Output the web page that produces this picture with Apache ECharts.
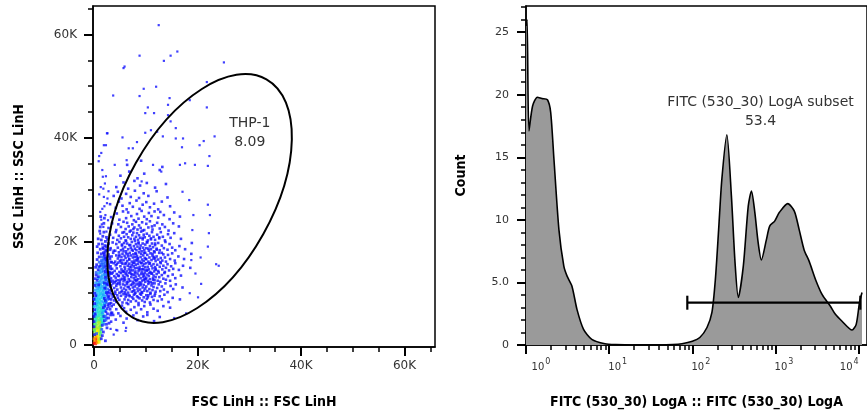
<!DOCTYPE html>
<html><head><meta charset="utf-8">
<script src="https://cdn.jsdelivr.net/npm/echarts@6/dist/echarts.min.js"></script>
<style>html,body{margin:0;padding:0;background:#fff}#c{width:867px;height:414px}</style>
</head><body><div id="c"></div>
<script>
// ---------- DATA (scatter values in hundreds of channel units) ----------
const fscTickValues = [0, 20000, 40000, 60000];
const fscTickLabels = ['0', '20K', '40K', '60K'];
const fscMinorTicks = [5000,10000,15000,25000,30000,35000,45000,50000,55000,65000];
const countTickValues = [0, 5, 10, 15, 20, 25];
const countTickLabels = ['0', '5.0', '10', '15', '20', '25'];
const countMinorTicks = [1,2,3,4,6,7,8,9,11,12,13,14,16,17,18,19,21,22,23,24,26,27];
const fitcTickValues = [1, 10, 100, 1000, 10000];
const fitcMinorTicks = [2,3,4,5,6,7,8,9,20,30,40,50,60,70,80,90,200,300,400,500,600,700,800,900,2000,3000,4000,5000,6000,7000,8000,9000];

const coreDots = [
24,52, 33,45, 37,58, 42,49, 51,56, 57,43, 63,51, 76,57, 84,48, 95,55, 103,58, 116,46, 127,54,
21,66, 28,74, 35,62, 38,78, 43,69, 47,61, 54,76, 58,71, 62,64, 66,79, 71,68, 78,73, 82,62, 86,77, 91,69, 97,75, 103,63, 109,78, 115,70, 123,66, 134,75, 147,72,
22,84, 25,97, 29,89, 33,81, 36,93, 39,86, 41,99, 43,83, 46,91, 49,87, 52,95, 55,82, 57,98, 59,88, 61,93, 63,81, 66,87, 68,96, 71,84, 74,92, 76,89, 79,99, 81,85, 83,94, 86,81, 88,90, 91,97, 93,86, 96,92, 98,83, 102,89, 105,96, 108,82, 112,93, 115,87, 118,99, 123,85, 127,94, 131,88, 136,97, 144,83, 152,91, 166,88,
21,108, 24,116, 27,102, 31,113, 34,105, 37,119, 39,110, 41,103, 43,114, 45,107, 47,119, 49,101, 52,111, 54,105, 56,117, 58,109, 59,102, 60,115, 62,106, 64,118, 66,101, 67,112, 69,108, 71,116, 73,103, 75,111, 77,119, 78,106, 79,113, 80,101, 82,117, 84,109, 85,104, 87,114, 89,107, 91,119, 92,102, 94,111, 96,116, 97,105, 99,109, 101,113, 103,104, 105,118, 107,108, 109,101, 111,115, 113,106, 115,112, 117,119, 119,103, 122,110, 125,117, 128,104, 131,113, 135,107, 138,119, 142,102, 148,114, 153,108, 158,117, 171,111,
22,127, 25,135, 28,121, 31,138, 33,129, 36,124, 39,133, 40,121, 42,130, 44,137, 46,125, 48,133, 50,122, 52,139, 54,128, 56,134, 57,123, 59,131, 60,126, 61,138, 63,121, 65,133, 67,127, 68,139, 70,124, 72,131, 74,136, 75,122, 77,129, 78,135, 79,125, 81,132, 82,123, 84,138, 85,127, 87,134, 88,121, 90,129, 91,137, 93,124, 95,132, 96,126, 98,139, 99,122, 101,130, 103,136, 104,124, 106,133, 108,127, 110,121, 112,138, 114,129, 115,134, 117,125, 119,131, 121,137, 123,124, 126,131, 128,122, 131,135, 134,128, 136,139, 139,126, 143,133, 147,124, 152,136, 157,129, 168,134,
23,146, 26,157, 29,141, 32,152, 35,147, 38,158, 40,143, 42,154, 44,148, 47,159, 49,141, 51,152, 53,146, 55,157, 57,143, 59,151, 60,147, 62,158, 63,142, 65,153, 67,146, 68,157, 70,141, 72,150, 73,155, 75,144, 77,152, 78,159, 79,148, 80,142, 81,155, 83,149, 85,157, 86,143, 88,151, 89,146, 91,158, 92,141, 94,153, 95,147, 97,156, 98,144, 99,150, 101,158, 102,143, 104,151, 106,146, 107,157, 109,141, 111,153, 113,148, 115,156, 116,142, 118,150, 119,145, 122,155, 124,143, 127,151, 129,158, 132,146, 134,153, 137,141, 139,149, 142,156, 145,144, 149,152, 153,147, 157,158, 164,145, 172,153, 186,149,
21,168, 24,163, 28,175, 31,166, 34,171, 37,178, 41,161, 43,173, 46,167, 48,179, 50,162, 53,170, 55,176, 57,164, 59,172, 61,168, 62,177, 64,162, 66,171, 68,165, 69,178, 71,173, 73,161, 75,169, 76,175, 78,163, 79,170, 80,177, 82,164, 83,172, 85,167, 87,179, 88,161, 90,170, 91,176, 93,165, 95,173, 96,162, 98,168, 99,178, 101,166, 103,174, 105,161, 107,169, 109,177, 111,164, 113,172, 115,167, 117,179, 119,162, 121,171, 124,165, 126,178, 129,168, 132,163, 134,175, 137,169, 139,161, 143,174, 147,166, 151,177, 156,163, 163,171, 174,166, 188,176,
23,184, 27,193, 32,187, 36,198, 41,182, 43,195, 46,188, 49,199, 52,183, 54,192, 56,186, 58,197, 60,189, 62,181, 64,196, 66,185, 68,193, 71,188, 73,199, 75,182, 77,191, 79,186, 81,195, 82,183, 84,190, 86,198, 88,185, 90,192, 92,181, 94,196, 95,188, 97,183, 99,194, 101,187, 103,198, 106,182, 108,191, 110,185, 112,196, 114,189, 116,181, 118,193, 121,186, 124,197, 127,183, 131,192, 135,187, 138,199, 142,184, 146,195, 151,188, 157,183, 165,191, 176,185, 189,197,
26,204, 31,213, 37,207, 42,218, 45,203, 48,211, 52,206, 55,217, 58,209, 61,202, 63,214, 66,208, 69,219, 71,205, 74,212, 76,217, 79,201, 81,209, 83,216, 85,203, 87,212, 89,207, 91,219, 94,204, 96,213, 98,208, 102,215, 104,202, 107,211, 110,206, 112,218, 115,209, 118,203, 122,213, 126,206, 129,218, 133,209, 137,202, 143,214, 148,207, 155,216, 168,205,
28,226, 35,235, 43,222, 47,233, 52,228, 57,238, 61,224, 64,236, 67,229, 71,221, 74,233, 78,227, 81,238, 84,223, 87,231, 90,226, 93,237, 97,222, 101,234, 105,227, 108,239, 113,223, 117,231, 122,236, 127,225, 132,233, 137,228, 144,221, 153,235, 164,229,
33,247, 44,254, 49,242, 56,258, 62,245, 66,256, 72,249, 77,241, 83,253, 86,244, 92,259, 97,248, 102,243, 106,255, 111,249, 117,258, 124,246, 128,257, 135,251, 146,243, 155,256, 166,248,
31,272, 42,265, 48,277, 55,269, 63,262, 69,274, 75,267, 82,279, 88,263, 94,271, 101,276, 108,266, 116,273, 124,262, 131,277, 147,268,
38,288, 46,296, 53,283, 62,292, 71,286, 79,298, 87,284, 96,293, 105,288, 121,297, 142,285,
43,305, 57,314, 66,302, 78,317, 89,308, 102,313, 118,304, 139,311,
51,327, 68,335, 84,322, 97,331, 127,338,
64,348, 91,356, 132,344,
44,118, 51,126, 58,141, 65,112, 72,137, 86,118, 93,146, 100,127, 107,139, 113,119, 53,159, 69,151, 84,163, 97,134, 76,104, 63,96, 89,99, 104,92, 48,171, 118,167,
45,96, 53,102, 61,99, 69,94, 77,97, 85,92, 93,101, 101,96, 109,99, 117,95,
42,124, 50,117, 58,128, 66,122, 74,117, 82,126, 90,116, 98,128, 106,121, 114,126,
47,134, 55,142, 63,136, 71,145, 79,139, 87,147, 95,137, 103,145, 111,138, 119,147,
44,156, 52,164, 60,157, 68,166, 76,158, 84,168, 92,159, 100,166, 108,158, 116,170,
49,174, 57,181, 65,175, 73,184, 81,176, 89,187, 97,178, 105,186, 113,176, 121,184,
54,194, 62,201, 70,193, 78,205, 86,196, 94,207, 102,199, 110,204, 118,196, 126,208,
36,140, 34,160, 38,182, 125,140, 128,160, 131,178, 58,218, 76,224, 94,221, 112,229
];

const haloDots = [
125,618, 88,559, 59,538, 135,549, 148,559, 161,567, 251,546, 37,482, 96,495, 120,499, 88,481, 146,477, 143,464, 104,459, 99,448, 116,448, 185,473, 218,508, 218,459, 143,444,
26,409, 55,401, 19,386, 83,392, 99,410, 110,415, 122,412, 133,403, 148,432, 158,419, 158,399, 172,399, 170,382, 204,386, 212,394, 233,403, 67,380, 75,380,
220,346, 223,365, 220,271, 224,251, 222,216, 220,190, 206,169, 241,153, 188,164, 185,100, 166,348, 171,296, 184,280, 190,222, 192,251,
10,365, 23,386, 25,409, 57,535, 40,348, 63,357, 114,348, 176,351, 195,348, 17,325, 92,316, 130,335,
12,215, 18,228, 14,242, 22,251, 16,263, 25,274, 19,286, 28,297, 13,305, 21,312, 24,219, 15,233, 27,241, 12,257, 20,268, 26,283, 10,291, 18,302, 23,326, 16,338, 9,355, 14,371,
32,31, 45,28, 62,33, 38,20, 155,52, 178,61, 201,92, 196,138, 207,118, 236,156, 43,29, 61,27
];

// debris: x, y (hundreds), local density level 0..9
const debrisDots = [
2,5,9, 5,6,9, 4,9,9, 7,11,8, 3,13,9, 6,15,8, 1,8,8, 8,7,7, 9,13,7, 2,17,7,
0,3,9, 3,2,9, 6,4,8, 10,5,7, 0,12,8, 11,10,6, 12,15,6, 13,24,5, 0,30,6,
4,17,8, 8,18,7, 5,21,8, 9,23,7, 6,25,7, 3,27,7, 10,28,6, 7,30,7, 1,23,6, 12,20,5, 11,26,5, 2,32,6,
5,32,6, 9,34,6, 12,36,5, 6,38,6, 10,40,6, 4,42,5, 8,44,6, 12,46,5, 7,48,5, 11,50,5, 5,52,5, 9,54,5, 14,42,4, 3,47,4, 14,51,4, 2,37,4,
1,28,5, 13,31,5, 14,37,5, 1,40,5, 13,47,4, 3,54,4, 15,55,3, 11,44,6, 3,35,6, 8,27,7, 11,33,6,
6,56,4, 10,57,4, 13,59,4, 8,61,4, 11,63,4, 5,65,3, 9,66,4, 14,68,3, 7,70,4, 12,71,4, 10,73,4, 6,75,3, 15,76,3, 8,78,4, 12,80,4, 10,82,3, 7,84,3, 14,85,3, 11,87,4, 9,89,3, 13,91,3, 16,92,3, 8,94,3, 12,96,3, 10,98,3, 15,99,3, 13,101,3, 9,103,3, 17,104,2, 11,106,3, 14,108,3, 12,110,3,
2,62,3, 17,60,3, 4,70,3, 18,72,3, 3,86,3, 19,88,3, 6,92,3, 20,80,2, 4,100,2, 18,106,3, 15,64,4, 16,70,4, 5,82,3, 13,78,4, 17,95,3, 6,105,3,
18,45,3, 19,52,3, 20,66,3, 21,74,2, 22,84,2, 22,94,2, 23,103,2, 23,112,2, 24,120,1, 24,130,1, 0,60,3, 0,74,3, 1,90,2, 2,106,2, 3,120,2, 4,140,1,
16,44,4, 17,57,4, 18,66,3, 19,78,3, 19,90,3, 20,100,3, 20,110,2, 21,118,2, 22,135,2, 6,118,2, 7,128,2, 8,138,2, 9,150,1, 10,160,1, 4,112,2, 5,88,3, 3,76,3, 2,50,4, 16,50,4,
3,58,2, 16,62,2, 4,79,2, 17,83,2, 5,97,2, 18,97,2, 19,110,2, 7,109,2,
10,112,2, 16,113,2, 13,115,3, 11,118,2, 15,120,2, 18,122,2, 12,124,2, 14,127,2, 17,129,2, 13,132,2, 16,134,2, 19,136,2, 12,139,2, 15,141,2, 18,143,1, 14,146,2, 17,148,1, 20,150,1, 15,153,1, 18,156,1, 16,159,1, 21,161,1, 17,164,1, 19,167,1,
8,114,2, 20,117,2, 9,121,2, 21,126,2, 10,130,2, 21,139,1, 11,143,2, 19,152,1, 13,156,1, 22,157,1, 14,163,1, 23,168,0, 15,170,1, 20,172,0, 18,178,0,
1,20,0, 14,12,0, 18,25,0, 22,8,0, 0,45,0, 16,38,0, 20,47,0, 25,33,0, 2,60,0, 19,55,0, 23,64,0, 28,52,0, 1,80,0, 18,72,0, 22,86,0, 27,78,0, 31,69,0, 3,95,0, 20,90,0, 24,101,0, 29,94,0, 33,88,0, 2,115,0, 6,125,0, 21,110,0, 25,118,0, 30,106,0, 4,135,0, 8,145,0, 22,131,0, 26,140,0, 31,126,0, 5,155,0, 10,170,0, 23,152,0, 27,160,0, 32,147,0, 7,178,0, 12,185,0, 20,175,0, 25,182,0, 30,170,0, 9,195,0, 14,203,0, 21,192,0, 17,210,0, 11,220,0, 19,235,0, 13,248,0, 16,18,0, 24,40,0, 26,60,0, 21,76,0, 9,116,0, 20,120,0, 8,132,0, 22,142,0, 11,152,0, 23,165,0, 14,176,0, 24,190,0, 16,195,0,
5,22,1, 15,30,1, 19,40,1, 22,56,1, 25,70,0, 24,82,1, 27,92,0, 26,108,1, 28,116,0, 24,126,1, 29,134,0, 25,146,1, 28,155,0, 6,165,0, 3,150,0, 2,128,0, 1,100,0, 0,88,0, 1,68,0, 0,55,0, 0,35,0, 29,42,0, 32,58,0, 34,75,0, 35,98,0, 33,115,0, 34,138,0, 33,160,0, 27,172,0, 18,186,0, 22,200,0, 8,205,0, 12,228,0, 20,245,0, 6,190,0,
23,48,1, 26,88,1, 30,100,0, 27,122,1, 30,140,0, 26,164,0, 21,180,0, 17,188,0, 31,184,0, 28,196,0, 24,208,0, 19,218,0, 33,62,0, 30,80,0, 32,122,0, 29,150,0
];

// ellipse gate: centre x, centre y, semi-major, semi-minor, tilt (deg)
const thpGate = [20400, 28300, 26400, 14100, 60.7];
const thpGateName = 'THP-1';
const thpGateValue = '8.09';

// histogram
const histX = [1.0, 1.03, 1.085, 1.2, 1.37, 1.55, 1.81, 1.98, 2.17, 2.49, 2.85, 3.12, 3.57, 4.1, 4.92, 6.18, 8.9, 12, 20, 40, 58, 75, 100, 123, 150, 172, 189, 207, 226, 260, 295, 326, 357, 410, 470, 514, 564, 618, 676, 776, 851, 977, 1114, 1403, 1683, 1928, 2208, 2535, 3041, 3656, 4571, 5248, 6310, 8318, 9333, 10233, 10965];
const histCount = [25.5, 26.0, 17.1, 19.1, 19.8, 19.7, 19.6, 18.6, 14.8, 9.2, 6.3, 5.5, 4.7, 2.85, 1.25, 0.45, 0.1, 0.03, 0, 0, 0.03, 0.1, 0.3, 0.6, 1.4, 2.6, 5.2, 9.2, 13.2, 16.8, 11.9, 6.6, 3.8, 6.3, 11.1, 12.3, 10.6, 8.2, 6.8, 8.4, 9.5, 9.9, 10.6, 11.3, 10.7, 9.2, 7.6, 6.7, 5.2, 4.0, 3.1, 2.45, 1.9, 1.2, 1.65, 3.4, 4.2];

// range gate: from, to, at count
const fitcGate = [87, 10471, 3.38];
const fitcGateName = 'FITC (530_30) LogA subset';
const fitcGateValue = '53.4';

// ---------- BUILD ----------
const pairs = (a, s) => { const r = []; for (let i = 0; i < a.length; i += 2) r.push([a[i] * s, a[i + 1] * s]); return r; };
const triples = (a, s) => { const r = []; for (let i = 0; i < a.length; i += 3) r.push([a[i] * s, a[i + 1] * s, a[i + 2]]); return r; };
const histData = histX.map((x, i) => [x, histCount[i]]);

const TICKFONT = 'DejaVu Sans';
const TITLEFONT = "'DejaVu Sans Condensed','Liberation Sans Narrow','DejaVu Sans'";
const titleStyle = { fontFamily: TITLEFONT, fontWeight: 'bold', fontSize: 14, color: '#000' };
const lineBlack = { show: true, onZero: false, lineStyle: { color: '#000', width: 1.5 } };
const noLine = { show: false, onZero: false };

function majorAxis(o) {
  return Object.assign({
    splitLine: { show: false },
    axisLine: lineBlack,
    axisTick: { show: true, length: 9, customValues: o.ticks, lineStyle: { color: '#000', width: 2 } },
    axisLabel: { show: true, customValues: o.ticks, fontFamily: TICKFONT, color: '#333', fontSize: 12 },
    nameLocation: 'middle', nameTextStyle: titleStyle
  }, o.extra);
}
function minorAxis(o) {
  return Object.assign({
    splitLine: { show: false },
    axisLine: noLine,
    axisTick: { show: true, length: 5, customValues: o.ticks, lineStyle: { color: '#000', width: 1.5 } },
    axisLabel: { show: false }
  }, o.extra);
}

const FSC = { min: -200, max: 65900 };
const SSC = { min: -400, max: 65500 };
const FITC = { min: 1, max: 12589 };
const CNT = { min: 0, max: 27.09 };

const xMajL = majorAxis({ ticks: fscTickValues, extra: { type: 'value', gridIndex: 0, position: 'bottom', min: FSC.min, max: FSC.max, name: 'FSC LinH :: FSC LinH', nameGap: 48 } });
xMajL.axisLabel.formatter = v => fscTickLabels[fscTickValues.indexOf(v)];
xMajL.axisLabel.margin = 13;
const yMajL = majorAxis({ ticks: fscTickValues, extra: { type: 'value', gridIndex: 0, position: 'left', min: SSC.min, max: SSC.max, name: 'SSC LinH :: SSC LinH', nameGap: 67 } });
yMajL.axisLabel.formatter = v => fscTickLabels[fscTickValues.indexOf(v)];
yMajL.axisLabel.margin = 16;

const xMajR = majorAxis({ ticks: fitcTickValues, extra: { type: 'log', logBase: 10, gridIndex: 1, position: 'bottom', min: FITC.min, max: FITC.max, name: 'FITC (530_30) LogA :: FITC (530_30) LogA', nameGap: 50 } });
xMajR.axisLabel.margin = 13;
xMajR.axisLabel.formatter = v => {
  const e = Math.round(Math.log10(v));
  if (e === 0) return '{f|10}{s|' + e + '}';
  if (e === 4) return '{b|10}{sl|' + e + '}';
  return '{m|10}{s|' + e + '}';
};
xMajR.axisLabel.rich = {
  f: { fontSize: 10, fontFamily: TICKFONT, color: '#333', padding: [0, 0, 0, 30] },
  m: { fontSize: 10, fontFamily: TICKFONT, color: '#333', padding: [0, 0, 0, 17] },
  b: { fontSize: 10, fontFamily: TICKFONT, color: '#333' },
  s: { fontSize: 8, fontFamily: TICKFONT, color: '#333', padding: [0, 0, 10, 1] },
  sl: { fontSize: 8, fontFamily: TICKFONT, color: '#333', padding: [0, 19, 10, 1] }
};
const yMajR = majorAxis({ ticks: countTickValues, extra: { type: 'value', gridIndex: 1, position: 'left', min: CNT.min, max: CNT.max, name: 'Count', nameGap: 58 } });
yMajR.axisLabel.formatter = v => countTickLabels[countTickValues.indexOf(v)];
yMajR.axisLabel.margin = 17;
yMajR.axisLabel.fontSize = 11;

const option = {
  animation: false,
  backgroundColor: '#fff',
  grid: [
    { left: 93, top: 6, width: 342, height: 341, show: true, borderColor: '#000', borderWidth: 1.5 },
    { left: 526, top: 6, width: 346, height: 339.7, show: true, borderColor: '#000', borderWidth: 1.5 }
  ],
  xAxis: [
    xMajL,
    minorAxis({ ticks: fscMinorTicks, extra: { type: 'value', gridIndex: 0, position: 'bottom', min: FSC.min, max: FSC.max } }),
    xMajR,
    minorAxis({ ticks: fitcMinorTicks, extra: { type: 'log', logBase: 10, gridIndex: 1, position: 'bottom', min: FITC.min, max: FITC.max } })
  ],
  yAxis: [
    yMajL,
    minorAxis({ ticks: fscMinorTicks, extra: { type: 'value', gridIndex: 0, position: 'left', min: SSC.min, max: SSC.max } }),
    yMajR,
    minorAxis({ ticks: countMinorTicks, extra: { type: 'value', gridIndex: 1, position: 'left', min: CNT.min, max: CNT.max } })
  ],
  visualMap: [{
    type: 'continuous', show: false, seriesIndex: 2, dimension: 2, min: 0, max: 9,
    inRange: { color: ['#1010ff', '#1a5cff', '#1c9cff', '#18c8f4', '#20e4c0', '#46f070', '#a8f028', '#f4f000', '#ff9400', '#ff1a10'] }
  }],
  series: [
    { type: 'scatter', xAxisIndex: 0, yAxisIndex: 0, data: pairs(coreDots, 100), symbol: 'rect', symbolSize: 2.6, itemStyle: { color: '#1010ff' }, silent: true },
    { type: 'scatter', xAxisIndex: 0, yAxisIndex: 0, data: pairs(haloDots, 100), symbol: 'rect', symbolSize: 2.2, itemStyle: { color: '#1010ff' }, silent: true },
    { type: 'scatter', xAxisIndex: 0, yAxisIndex: 0, data: triples(debrisDots, 100), symbol: 'rect', symbolSize: 2.8, silent: true, encode: { x: 0, y: 1 } },
    {
      type: 'custom', xAxisIndex: 0, yAxisIndex: 0, data: [thpGate], silent: true, z: 5,
      encode: { x: 0, y: 1 },
      renderItem: (params, api) => {
        const c = api.coord([api.value(0), api.value(1)]);
        const rx = api.size([api.value(2), 0])[0];
        const ry = api.size([0, api.value(3)])[1];
        const t = api.coord([30100, 41000]);
        return { type: 'group', children: [
          { type: 'ellipse', x: c[0], y: c[1], rotation: api.value(4) * Math.PI / 180, shape: { cx: 0, cy: 0, rx: rx, ry: ry }, style: { fill: 'none', stroke: '#000', lineWidth: 2 } },
          { type: 'text', x: t[0], y: t[1], style: { text: thpGateName + '\n' + thpGateValue, fill: '#333', fontSize: 14, fontFamily: TICKFONT, align: 'center', verticalAlign: 'middle', lineHeight: 19 } }
        ] };
      }
    },
    {
      type: 'line', xAxisIndex: 2, yAxisIndex: 2, data: histData, smooth: 0.25, showSymbol: false, silent: true, z: 3,
      lineStyle: { color: '#000', width: 1.6 }, areaStyle: { color: '#9a9a9a', opacity: 1 }
    },
    {
      type: 'custom', xAxisIndex: 2, yAxisIndex: 2, data: [fitcGate], silent: true, z: 5,
      renderItem: (params, api) => {
        const p1 = api.coord([api.value(0), api.value(2)]);
        const p2 = api.coord([api.value(1), api.value(2)]);
        const t = api.coord([660, 18.6]);
        const st = { stroke: '#000', lineWidth: 2.2 };
        return { type: 'group', children: [
          { type: 'line', shape: { x1: p1[0], y1: p1[1], x2: p2[0], y2: p2[1] }, style: st },
          { type: 'line', shape: { x1: p1[0], y1: p1[1] - 7, x2: p1[0], y2: p1[1] + 7 }, style: st },
          { type: 'line', shape: { x1: p2[0], y1: p2[1] - 7, x2: p2[0], y2: p2[1] + 7 }, style: st },
          { type: 'text', x: t[0], y: t[1], style: { text: fitcGateName + '\n' + fitcGateValue, fill: '#333', fontSize: 14, fontFamily: TICKFONT, align: 'center', verticalAlign: 'middle', lineHeight: 19 } }
        ] };
      }
    }
  ]
};

const chart = echarts.init(document.getElementById('c'), null, { renderer: 'canvas' });
chart.setOption(option);
</script>
</body></html>
